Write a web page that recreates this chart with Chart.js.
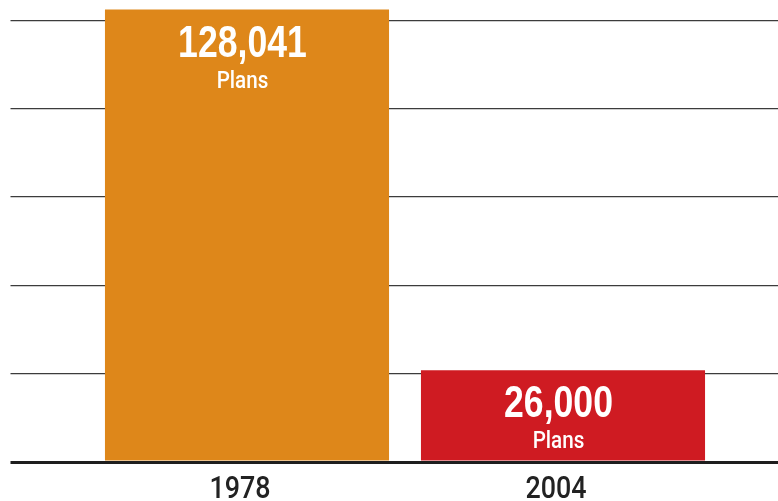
<!DOCTYPE html>
<html>
<head>
<meta charset="utf-8">
<script src="https://cdn.jsdelivr.net/npm/chart.js@4.4.1/dist/chart.umd.min.js"></script>
<style>
    html, body { margin: 0; padding: 0; background: #fff; }
    #wrap { width: 778px; height: 501px; }
</style>
</head>
<body>
<div id="wrap"><canvas id="plansChart"></canvas></div>
<script>
const years = ['1978', '2004'];
const plans = [128041, 26000];
const barColors = ['#DE871A', '#CF1B22'];
const unitLabel = 'Plans';
const yTicks = [0, 25000, 50000, 75000, 100000, 125000];

// draw text squeezed horizontally, to get a condensed face
function condensedText(ctx, text, x, y, font, squeeze, color) {
    ctx.save();
    ctx.font = font;
    ctx.fillStyle = color;
    ctx.textAlign = 'center';
    ctx.textBaseline = 'alphabetic';
    ctx.translate(x, y);
    ctx.scale(squeeze, 1);
    ctx.fillText(text, 0, 0);
    ctx.restore();
}

// value labels inside the bars and the year labels under the axis
const barText = {
    id: 'barText',
    afterDatasetsDraw(chart) {
        const ctx = chart.ctx;
        const meta = chart.getDatasetMeta(0);
        meta.data.forEach((bar, i) => {
            const cx = bar.x - 4.5;
            condensedText(ctx, plans[i].toLocaleString('en-US'), cx, bar.y + 47,
                'bold 44px "Liberation Sans", Arial, sans-serif', 0.81, '#fff');
            condensedText(ctx, unitLabel, cx, bar.y + 78,
                '500 24px Roboto, "Liberation Sans", sans-serif', 0.86, '#fff');
        });
        const xs = chart.scales.x;
        years.forEach((yr, i) => {
            condensedText(ctx, yr, xs.getPixelForValue(i) - 7, 498,
                '500 32px Roboto, "Liberation Sans", sans-serif', 0.84, '#222');
        });
    }
};

const gridColor = ctx => ctx.tick && ctx.tick.value === 0 ? '#1e1e1e' : '#3c3c3c';
const gridWidth = ctx => ctx.tick && ctx.tick.value === 0 ? 3 : 1.3;

const yAxis = (position, tickLength, onArea) => ({
    position: position,
    min: 0,
    max: 130000,
    afterBuildTicks: axis => { axis.ticks = yTicks.map(v => ({ value: v })); },
    ticks: { display: false },
    border: { display: false },
    grid: {
        drawOnChartArea: onArea,
        drawTicks: true,
        tickLength: tickLength,
        color: gridColor,
        tickColor: gridColor,
        lineWidth: gridWidth,
        tickWidth: gridWidth
    }
});

new Chart(document.getElementById('plansChart').getContext('2d'), {
    type: 'bar',
    data: {
        labels: years,
        datasets: [{
            label: unitLabel,
            data: plans,
            backgroundColor: barColors,
            borderWidth: 0,
            barPercentage: 0.899,
            categoryPercentage: 1
        }]
    },
    options: {
        responsive: true,
        maintainAspectRatio: false,
        animation: false,
        layout: { padding: { left: 10.5, right: 0, top: 2.7, bottom: 31 } },
        plugins: {
            legend: { display: false },
            tooltip: { enabled: false }
        },
        scales: {
            x: {
                ticks: { display: false },
                grid: { display: false },
                border: { display: false }
            },
            y: yAxis('left', 78.5, true),
            y2: yAxis('right', 57, false)
        }
    },
    plugins: [barText]
});
</script>
</body>
</html>
